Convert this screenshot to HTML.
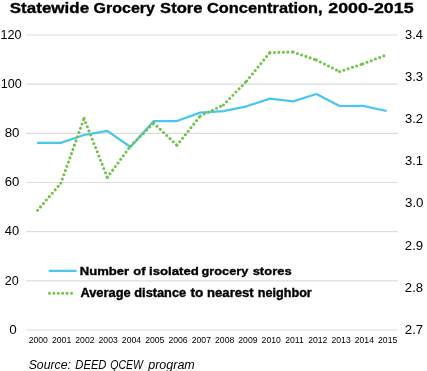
<!DOCTYPE html>
<html><head><meta charset="utf-8"><style>
html,body{margin:0;padding:0;background:#fff;width:427px;height:371px;overflow:hidden}
svg{display:block;will-change:transform}
text[font-weight="bold"]{stroke:#000;stroke-width:0.35px}
text{font-family:"Liberation Sans",sans-serif;fill:#000}
</style></head><body>
<svg width="427" height="371" viewBox="0 0 427 371">
<g stroke="#dcdddc" stroke-width="1.2"><line x1="26" x2="398" y1="35.00" y2="35.00"/><line x1="26" x2="398" y1="84.17" y2="84.17"/><line x1="26" x2="398" y1="133.33" y2="133.33"/><line x1="26" x2="398" y1="182.50" y2="182.50"/><line x1="26" x2="398" y1="231.67" y2="231.67"/><line x1="26" x2="398" y1="280.83" y2="280.83"/><line x1="26" x2="398" y1="330.00" y2="330.00"/></g>
<text transform="translate(9.79 12.90) scale(1.1174 1)" font-size="15.22" font-weight="bold" font-style="normal">Statewide</text><text transform="translate(93.56 12.90) scale(1.0507 1)" font-size="15.22" font-weight="bold" font-style="normal">Grocery</text><text transform="translate(160.10 12.90) scale(1.0900 1)" font-size="15.22" font-weight="bold" font-style="normal">Store</text><text transform="translate(207.04 12.90) scale(1.0770 1)" font-size="15.22" font-weight="bold" font-style="normal">Concentration,</text><text transform="translate(328.28 12.90) scale(1.1723 1)" font-size="15.22" font-weight="bold" font-style="normal">2000-2015</text><text transform="translate(79.85 274.80) scale(1.1143 1)" font-size="11.74" font-weight="bold" font-style="normal">Number</text><text transform="translate(133.18 274.80) scale(1.1107 1)" font-size="11.74" font-weight="bold" font-style="normal">of</text><text transform="translate(149.08 274.80) scale(1.1210 1)" font-size="11.74" font-weight="bold" font-style="normal">isolated</text><text transform="translate(201.59 274.80) scale(1.0848 1)" font-size="11.74" font-weight="bold" font-style="normal">grocery</text><text transform="translate(252.65 274.80) scale(1.1067 1)" font-size="11.74" font-weight="bold" font-style="normal">stores</text><text transform="translate(80.38 297.20) scale(1.0841 1)" font-size="11.88" font-weight="bold" font-style="normal">Average</text><text transform="translate(134.29 297.20) scale(1.0748 1)" font-size="11.88" font-weight="bold" font-style="normal">distance</text><text transform="translate(190.56 297.20) scale(1.1470 1)" font-size="11.88" font-weight="bold" font-style="normal">to</text><text transform="translate(207.05 297.20) scale(1.1050 1)" font-size="11.88" font-weight="bold" font-style="normal">nearest</text><text transform="translate(257.78 297.20) scale(1.0639 1)" font-size="11.88" font-weight="bold" font-style="normal">neighbor</text><text transform="translate(28.63 368.60) scale(0.9842 1)" font-size="12.46" font-weight="normal" font-style="italic">Source:</text><text transform="translate(75.36 368.60) scale(0.8984 1)" font-size="12.46" font-weight="normal" font-style="italic">DEED</text><text transform="translate(110.17 368.60) scale(0.8483 1)" font-size="12.46" font-weight="normal" font-style="italic">QCEW</text><text transform="translate(148.21 368.60) scale(1.0048 1)" font-size="12.46" font-weight="normal" font-style="italic">program</text><text transform="translate(0.45 38.83) scale(1.0286 1)" font-size="12.25">120</text><text transform="translate(0.65 87.99) scale(1.0286 1)" font-size="12.25">100</text><text transform="translate(4.70 137.16) scale(1.0855 1)" font-size="12.25">80</text><text transform="translate(4.64 186.33) scale(1.0749 1)" font-size="12.25">60</text><text transform="translate(4.68 235.49) scale(1.0570 1)" font-size="12.25">40</text><text transform="translate(4.87 284.66) scale(1.0271 1)" font-size="12.25">20</text><text transform="translate(9.16 333.83) scale(1.0996 1)" font-size="12.25">0</text><text transform="translate(404.98 38.58) scale(1.0510 1)" font-size="12.25">3.4</text><text transform="translate(404.98 80.77) scale(1.0631 1)" font-size="12.25">3.3</text><text transform="translate(404.98 122.96) scale(1.0672 1)" font-size="12.25">3.2</text><text transform="translate(404.98 165.16) scale(1.0672 1)" font-size="12.25">3.1</text><text transform="translate(404.97 207.35) scale(1.0902 1)" font-size="12.25">3.0</text><text transform="translate(404.84 249.54) scale(1.0755 1)" font-size="12.25">2.9</text><text transform="translate(404.84 291.73) scale(1.0713 1)" font-size="12.25">2.8</text><text transform="translate(404.84 334.05) scale(1.0603 1)" font-size="12.43">2.7</text>
<g fill="#1a1a1a"><text transform="translate(38.30 342.91) scale(0.9923 1)" font-size="8.73" text-anchor="middle">2000</text><text transform="translate(61.59 342.91) scale(0.9923 1)" font-size="8.73" text-anchor="middle">2001</text><text transform="translate(84.88 342.91) scale(0.9923 1)" font-size="8.73" text-anchor="middle">2002</text><text transform="translate(108.17 342.91) scale(0.9923 1)" font-size="8.73" text-anchor="middle">2003</text><text transform="translate(131.46 342.91) scale(0.9923 1)" font-size="8.73" text-anchor="middle">2004</text><text transform="translate(154.75 342.91) scale(0.9923 1)" font-size="8.73" text-anchor="middle">2005</text><text transform="translate(178.04 342.91) scale(0.9923 1)" font-size="8.73" text-anchor="middle">2006</text><text transform="translate(201.33 342.91) scale(0.9923 1)" font-size="8.73" text-anchor="middle">2007</text><text transform="translate(224.62 342.91) scale(0.9923 1)" font-size="8.73" text-anchor="middle">2008</text><text transform="translate(247.91 342.91) scale(0.9923 1)" font-size="8.73" text-anchor="middle">2009</text><text transform="translate(271.20 342.91) scale(0.9923 1)" font-size="8.73" text-anchor="middle">2010</text><text transform="translate(294.49 342.91) scale(0.9923 1)" font-size="8.73" text-anchor="middle">2011</text><text transform="translate(317.78 342.91) scale(0.9923 1)" font-size="8.73" text-anchor="middle">2012</text><text transform="translate(341.07 342.91) scale(0.9923 1)" font-size="8.73" text-anchor="middle">2013</text><text transform="translate(364.36 342.91) scale(0.9923 1)" font-size="8.73" text-anchor="middle">2014</text><text transform="translate(387.65 342.91) scale(0.9923 1)" font-size="8.73" text-anchor="middle">2015</text></g>
<polyline points="37.10,142.90 60.83,142.90 84.06,135.00 107.29,130.90 130.52,147.00 153.75,121.00 176.98,121.00 200.21,112.60 223.44,111.10 246.67,106.30 269.90,98.60 293.13,101.40 316.36,94.00 339.59,106.00 362.82,105.90 386.65,111.00" fill="none" stroke="#4ac6f1" stroke-width="2.25" stroke-linejoin="round"/>
<g fill="none" stroke="#73c34b" stroke-width="3.1" stroke-linecap="round" stroke-dasharray="0 4.5"><path d="M37.60 210.30L60.83 183.30"/><path d="M60.83 183.30L84.06 118.30"/><path d="M84.06 118.30L107.29 177.40"/><path d="M107.29 177.40L130.52 146.00"/><path d="M130.52 146.00L153.75 123.10"/><path d="M153.75 123.10L176.98 145.30"/><path d="M176.98 145.30L200.21 116.00"/><path d="M200.21 116.00L223.44 105.00"/><path d="M223.44 105.00L246.67 81.00"/><path d="M246.67 81.00L269.90 52.60"/><path d="M269.90 52.60L293.13 52.00"/><path d="M293.13 52.00L316.36 60.00"/><path d="M316.36 60.00L339.59 71.60"/><path d="M339.59 71.60L362.82 63.90"/><path d="M362.82 63.90L386.05 55.00"/></g>
<line x1="49.5" x2="75.8" y1="270.85" y2="270.85" stroke="#4ac6f1" stroke-width="2.25" stroke-linecap="round"/>
<path d="M49.5 293.25H72" fill="none" stroke="#73c34b" stroke-width="3.1" stroke-linecap="round" stroke-dasharray="0 4.4"/>
</svg>
</body></html>
